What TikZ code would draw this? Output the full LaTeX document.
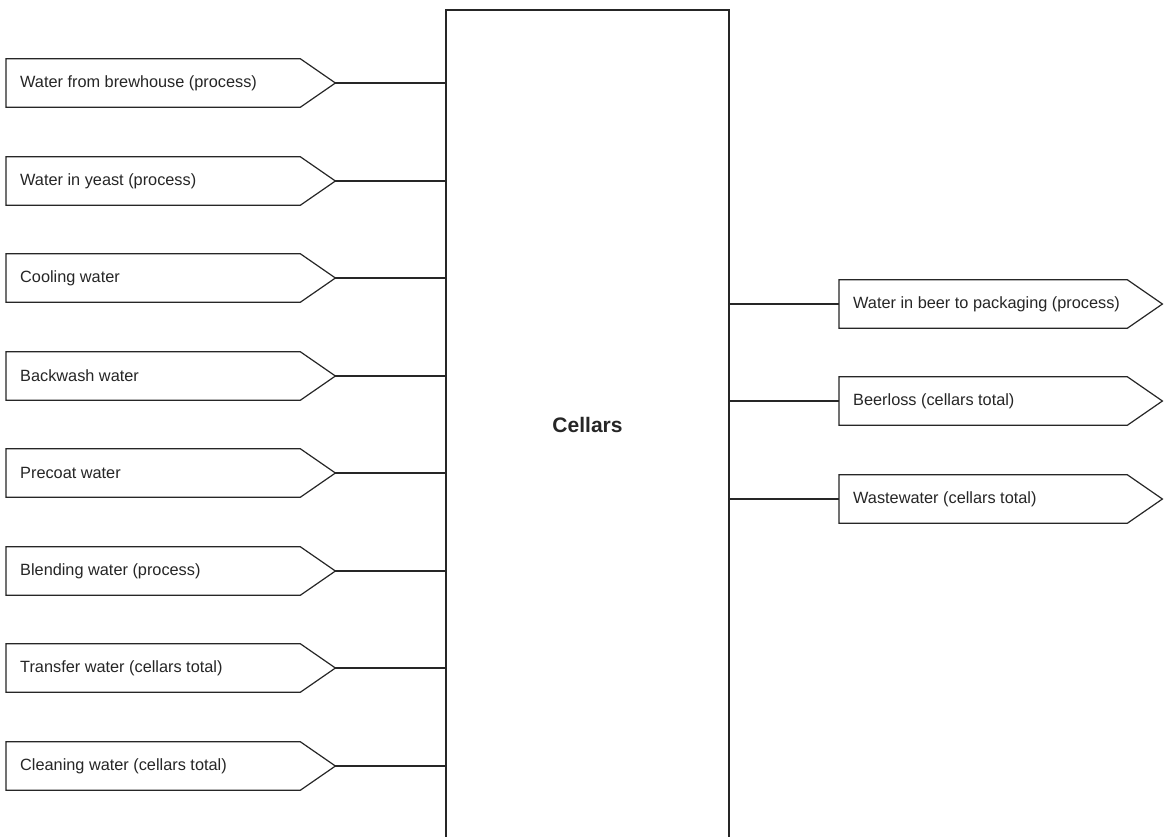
\documentclass[tikz,border=0pt]{standalone}
\usepackage{fontspec}
\setmainfont{Liberation Sans}
\usetikzlibrary{calc}
\tikzset{
  outline/.style={draw=black!85, line width=1.2pt, line join=miter},
  flowbox/.style={anchor=west, inner xsep=14pt, inner ysep=0pt,
    minimum height=48pt, font=\fontsize{16.3}{19}\selectfont, text=black!85},
  unitbox/.style={outline, minimum width=283pt, minimum height=830pt,
    font=\bfseries\fontsize{21}{25}\selectfont, text=black!85},
  link/.style={draw=black!85, line width=1.1pt}
}
% draws the pointed outline of a flow box and names its tip
\newcommand{\flowshape}[1]{%
  \draw[outline] (#1.north west) -- (#1.north east)
    -- ($(#1.east)+(35,0)$) coordinate (#1tip)
    -- (#1.south east) -- (#1.south west) -- cycle;}
\begin{document}
\begin{tikzpicture}[x=1pt, y=-1pt]
\path[use as bounding box, clip] (0,0) rectangle (1166,836);
\fill[white] (0,0) rectangle (1166,836);

% process unit
\node[unitbox] (cel) at (587.5,425) {Cellars};

% incoming flows
\foreach \name/\y/\txt in {
  in1/83/Water from brewhouse (process),
  in2/181/Water in yeast (process),
  in3/278/Cooling water,
  in4/376/Backwash water,
  in5/473/Precoat water,
  in6/571/Blending water (process),
  in7/668/Transfer water (cellars total),
  in8/766/Cleaning water (cellars total)}{
  \node[flowbox] (\name) at (6,\y) {\makebox[266pt][l]{\txt}};
  \flowshape{\name}
  \draw[link] (\name tip) -- (\name tip -| cel.west);
}

% outgoing flows
\foreach \name/\y/\txt in {
  out1/304/Water in beer to packaging (process),
  out2/401/Beerloss (cellars total),
  out3/499/Wastewater (cellars total)}{
  \node[flowbox] (\name) at (839,\y) {\makebox[260pt][l]{\txt}};
  \flowshape{\name}
  \draw[link] (\name.west -| cel.east) -- (\name.west);
}
\end{tikzpicture}
\end{document}
